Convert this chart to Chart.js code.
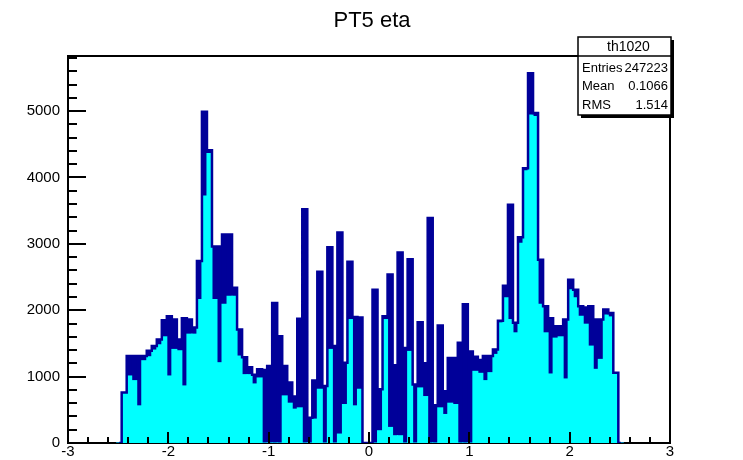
<!DOCTYPE html>
<html>
<head>
<meta charset="utf-8">
<script src="https://cdn.jsdelivr.net/npm/chart.js@4.4.1/dist/chart.umd.min.js"></script>
<style>
  html, body { margin: 0; padding: 0; background: #fff; }
  #wrap { width: 743px; height: 460px; }
</style>
</head>
<body>
<div id="wrap"><canvas id="etaChart" width="743" height="460"></canvas></div>
<script>
// histogram bins (first and last are empty pads so the outline drops to 0)
const binStart = -2.515;
const binWidth = 0.05;

// upper edge of each bin (dark blue outline region)
const envelope = [0,
  760, 1310, 1310, 1310, 1310, 1390, 1460, 1560, 1850, 1910,
  1860, 1560, 1880, 1860, 1740, 2740, 4990, 4410, 2960, 2960,
  3140, 3140, 2340, 1710, 1290, 1140, 1030, 1110,
  1100, 1160, 2110, 1610, 1160, 910, 700, 1870, 3520, 380,
  940, 2580, 860, 2950, 1460, 3170, 1210, 2730, 1900, 1890,
  0, 0,
  2310, 810, 1910, 2540, 1170, 2870, 1430, 2770, 880, 1820,
  1200, 3390, 570, 1770, 780, 1280, 1280, 1510, 2090, 1380,
  1300, 1250, 1310, 1310, 1410, 1840, 2370, 3590, 1810, 3100,
  4140, 5570, 4970, 2760, 2060, 1880, 1760, 1760, 1860, 2460,
  2310, 2060, 2040, 2060, 1860, 1860, 2010, 1960, 1060,
0];

// lower edge inside each bin (cyan fill level)
const fillLevel = [0,
  760, 1010, 940, 560, 1240, 1300, 1400, 1480, 1600, 1010,
  1410, 1390, 860, 1640, 1640, 2160, 3720, 4360, 2160, 1210,
  2090, 2210, 2210, 1310, 1030, 1030, 890, 980,
  0, 0, 0, 0, 710, 600, 510, 530, 0, 0,
  360, 810, 0, 1410, 0, 135, 580, 1860, 560, 810,
  0, 0,
  0, 185, 1860, 235, 110, 110, 0, 1380, 0, 830,
  700, 0, 0, 530, 430, 600, 580, 0, 0, 0,
  1080, 1050, 940, 1060, 1335, 1810, 2190, 1860, 1660, 3010,
  4100, 4940, 4920, 2090, 1660, 1040, 1580, 1600, 965, 2310,
  2190, 1910, 1790, 1460, 1110, 1260, 1930, 1900, 1060,
0];

const xTicks = [-3, -2, -1, 0, 1, 2, 3];
const yTicks = [0, 1000, 2000, 3000, 4000, 5000];
const yMax = 5830;
const statLabels = ['Entries', 'Mean', 'RMS'];
const statValues = ['247223', '0.1066', '1.514'];
const histName = 'th1020';
const titleText = 'PT5 eta';

const DARK = '#000099';
const CYAN = '#00ffff';
const FONT = '"Liberation Sans", Arial, Helvetica, sans-serif';

const binCenters = envelope.map((_, i) => +(binStart + binWidth * (i + 0.5)).toFixed(4));
const toPoints = arr => arr.map((v, i) => ({ x: binCenters[i], y: v }));

const rootFrame = {
  id: 'rootFrame',
  afterDraw(chart) {
    const { ctx, chartArea: a, scales: { x, y } } = chart;
    ctx.save();
    ctx.strokeStyle = '#000';
    ctx.lineWidth = 2;
    // top and right frame lines
    ctx.beginPath();
    ctx.moveTo(a.left, a.top);
    ctx.lineTo(a.right, a.top);
    ctx.lineTo(a.right, a.bottom);
    ctx.stroke();

    // x ticks (inside, major every 1, minor every 0.2)
    ctx.beginPath();
    for (let i = 0; i <= 30; i++) {
      const px = Math.round(x.getPixelForValue(-3 + i * 0.2));
      const len = i % 5 === 0 ? 11 : 6;
      ctx.moveTo(px, a.bottom);
      ctx.lineTo(px, a.bottom - len);
    }
    // y ticks (major every 1000, minor every 200)
    for (let i = 0; i * 200 <= yMax; i++) {
      const py = Math.round(y.getPixelForValue(i * 200));
      const len = i % 5 === 0 ? 18 : 9;
      ctx.moveTo(a.left, py);
      ctx.lineTo(a.left + len, py);
    }
    ctx.stroke();

    // title
    ctx.fillStyle = '#000';
    ctx.font = '22px ' + FONT;
    ctx.textAlign = 'center';
    ctx.textBaseline = 'middle';
    ctx.fillText(titleText, 372, 21);

    // stats box
    const bx = 578, by = 37, bw = 93, bh = 78;
    ctx.fillStyle = '#000';
    ctx.fillRect(bx + 3, by + 3, bw, bh);
    ctx.fillStyle = '#fff';
    ctx.fillRect(bx, by, bw, bh);
    ctx.lineWidth = 1.5;
    ctx.strokeRect(bx, by, bw, bh);
    ctx.beginPath();
    ctx.moveTo(bx, by + 19);
    ctx.lineTo(bx + bw, by + 19);
    ctx.stroke();
    ctx.fillStyle = '#000';
    ctx.font = '14px ' + FONT;
    ctx.textAlign = 'center';
    ctx.fillText(histName, bx + bw / 2 + 4, by + 10);
    ctx.font = '13px ' + FONT;
    statLabels.forEach((lab, i) => {
      const ty = by + 31 + i * 18.5;
      ctx.textAlign = 'left';
      ctx.fillText(lab, bx + 4, ty);
      ctx.textAlign = 'right';
      ctx.fillText(statValues[i], bx + bw - 3, ty);
    });
    ctx.restore();
  }
};

new Chart(document.getElementById('etaChart').getContext('2d'), {
  type: 'bar',
  data: {
    datasets: [
      {
        type: 'line',
        data: toPoints(envelope),
        stepped: 'middle',
        borderColor: DARK,
        borderWidth: 2.5,
        pointRadius: 0,
        fill: false,
        order: 1
      },
      {
        data: toPoints(fillLevel),
        backgroundColor: CYAN,
        borderWidth: 0,
        grouped: false,
        barPercentage: 1,
        categoryPercentage: 1,
        inflateAmount: 0.5,
        order: 2
      },
      {
        data: toPoints(envelope),
        backgroundColor: DARK,
        borderWidth: 0,
        grouped: false,
        barPercentage: 1,
        categoryPercentage: 1,
        inflateAmount: 0.5,
        order: 3
      }
    ]
  },
  options: {
    responsive: false,
    animation: false,
    devicePixelRatio: 1,
    layout: { padding: { top: 56, right: 73, bottom: 0, left: 0 } },
    plugins: { legend: { display: false }, tooltip: { enabled: false }, title: { display: false } },
    scales: {
      x: {
        type: 'linear',
        min: -3,
        max: 3,
        offset: false,
        grid: { display: false, drawTicks: false },
        border: { display: true, color: '#000', width: 2 },
        ticks: { color: '#000', padding: 0, maxRotation: 0, autoSkip: false, font: { family: FONT, size: 15 }, callback: v => String(v) },
        afterBuildTicks(scale) { scale.ticks = xTicks.map(v => ({ value: v })); },
        afterFit(scale) { scale.height = 16; }
      },
      y: {
        min: 0,
        max: yMax,
        grid: { display: false, drawTicks: false },
        border: { display: true, color: '#000', width: 2 },
        ticks: { autoSkip: false, color: '#000', padding: 8, font: { family: FONT, size: 15 }, callback: v => String(v) },
        afterBuildTicks(scale) { scale.ticks = yTicks.map(v => ({ value: v })); },
        afterFit(scale) { scale.width = 68; }
      }
    }
  },
  plugins: [rootFrame]
});
</script>
</body>
</html>
